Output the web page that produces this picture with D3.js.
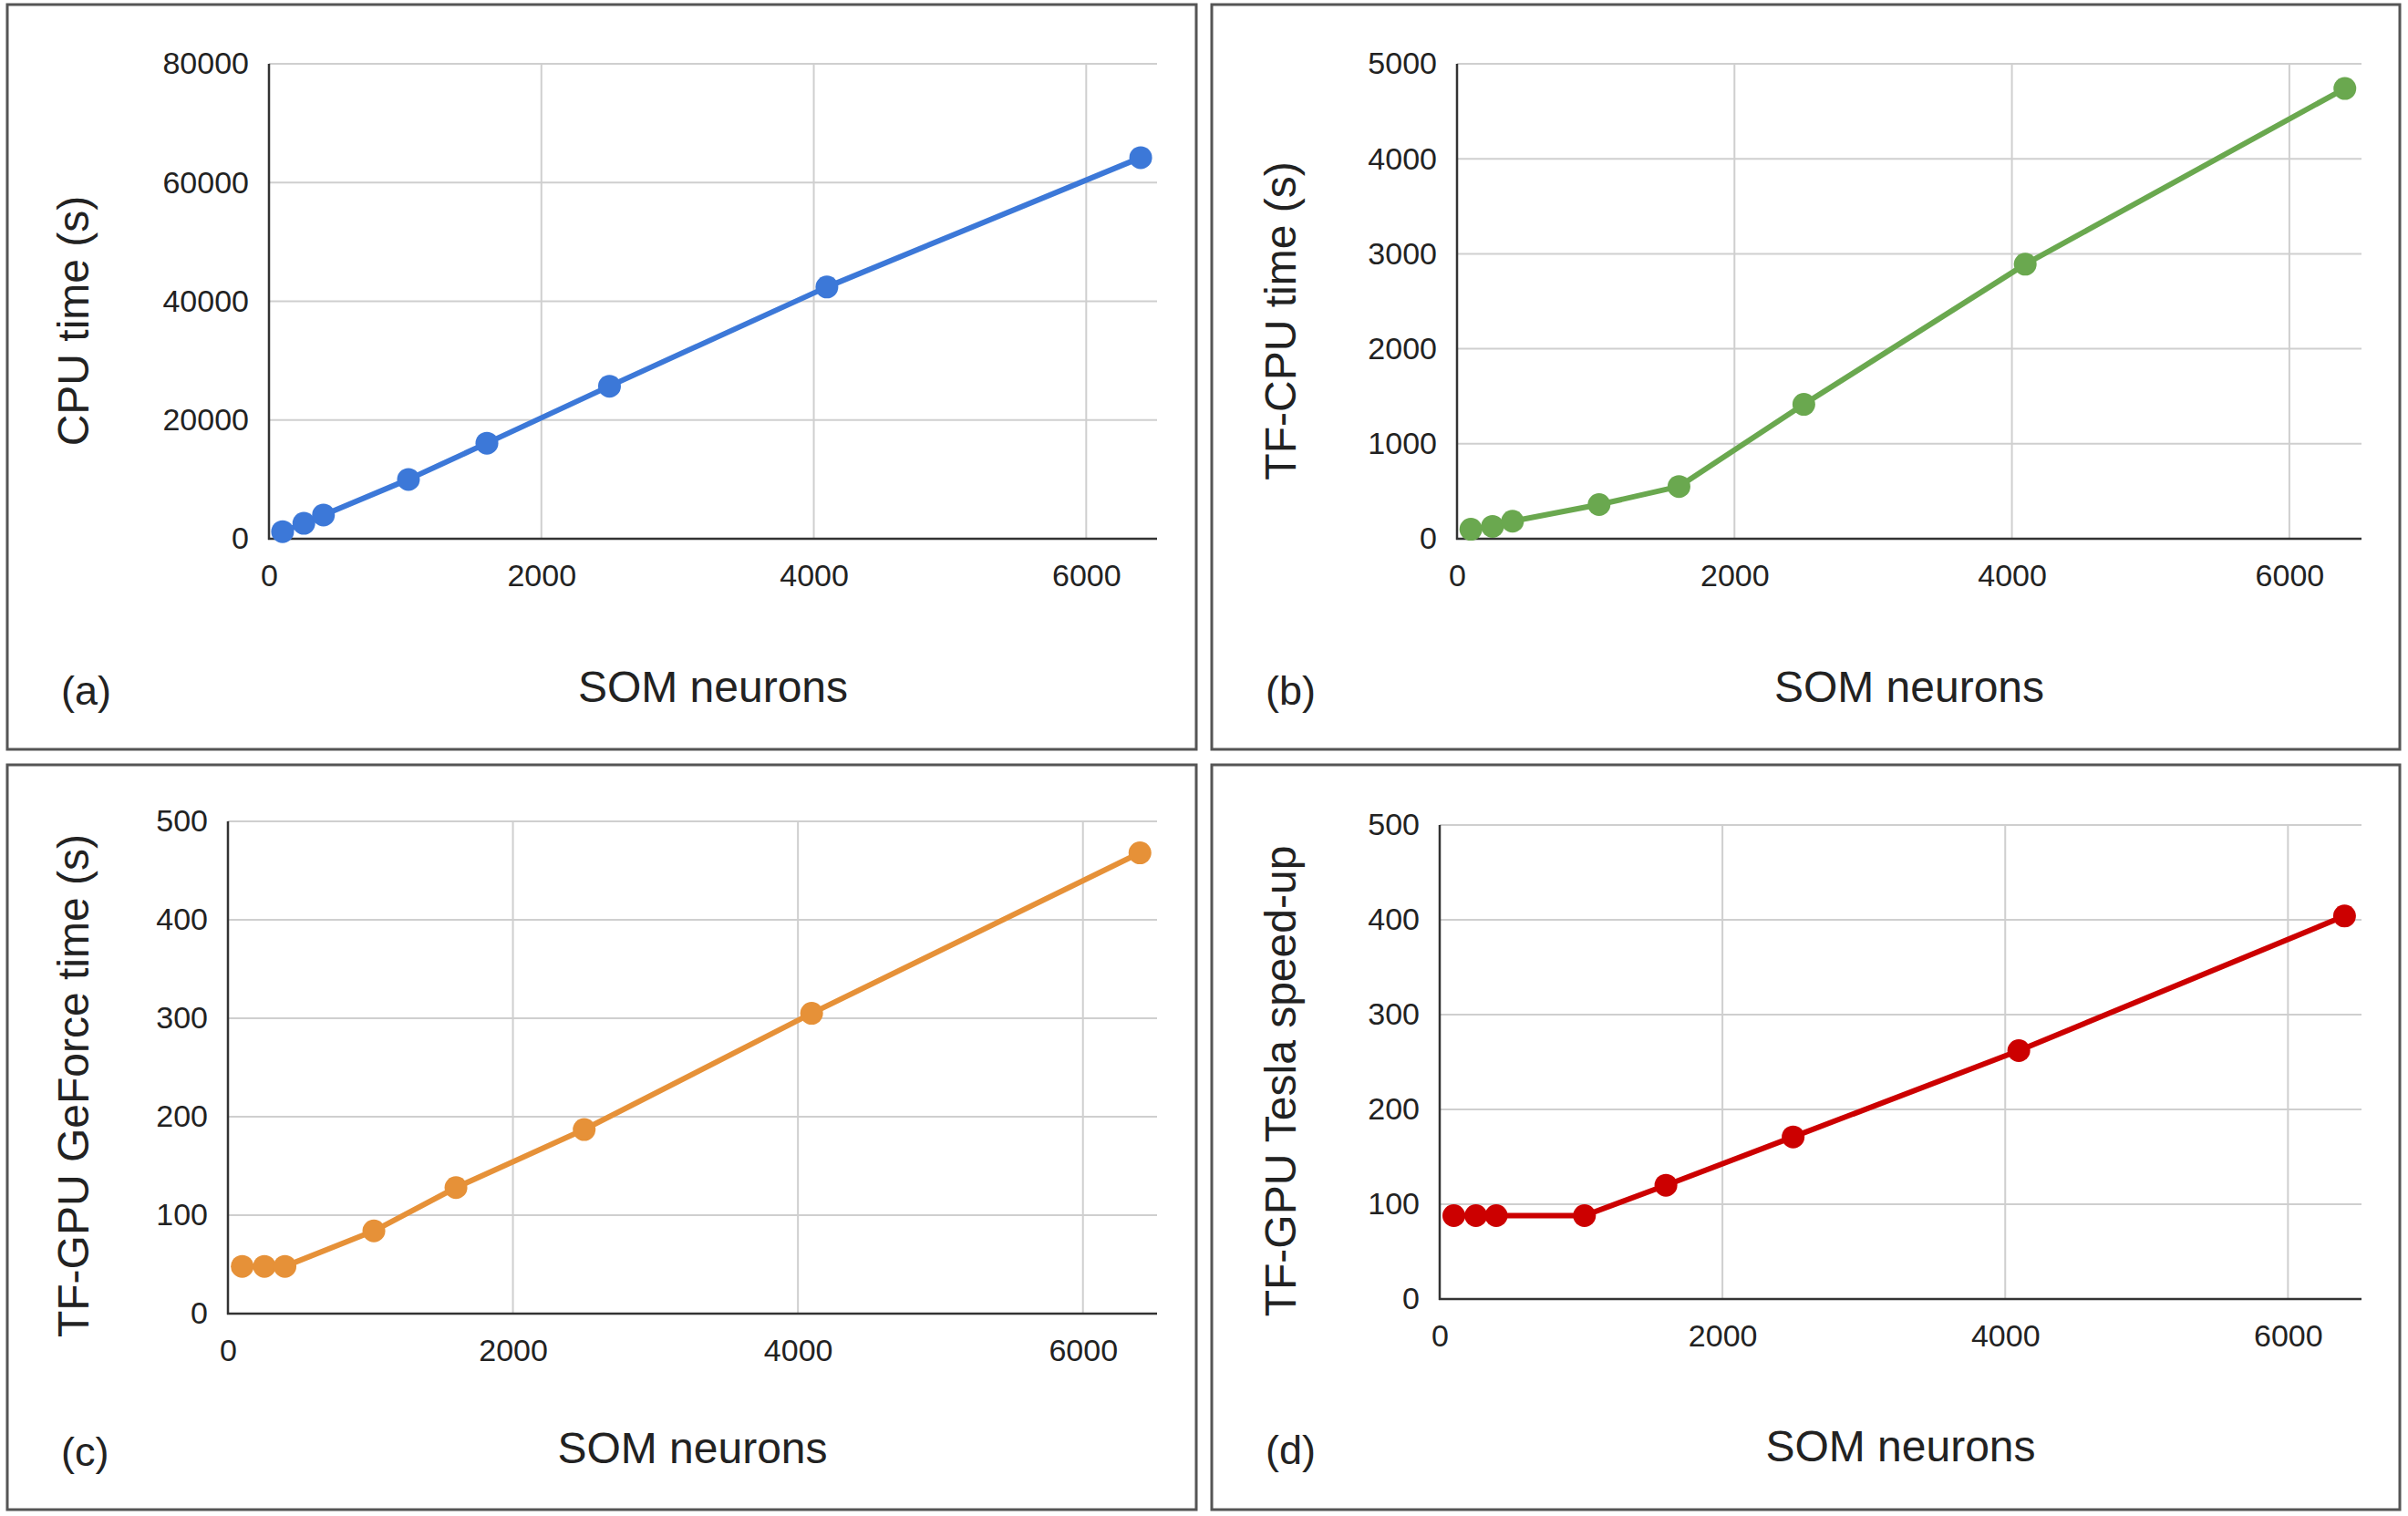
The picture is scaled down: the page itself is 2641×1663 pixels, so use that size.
<!DOCTYPE html>
<html>
<head>
<meta charset="utf-8">
<script src="https://cdn.jsdelivr.net/npm/d3@7"></script>
<style>
  body { margin: 0; background: #fff; }
  text { font-family: "Liberation Sans", Arial, sans-serif; fill: #222; }
</style>
</head>
<body>
<svg></svg>
<script>
const size = {w: 2641, h: 1663};
const svg = d3.select('svg').attr('width', size.w).attr('height', size.h);

// ---- data ----
const neurons = [100, 256, 400, 1024, 1600, 2500, 4096, 6400];
const cpuTime = [1200, 2600, 4000, 10000, 16100, 25700, 42400, 64200];
const tfCpuTime = [100, 130, 185, 360, 550, 1415, 2890, 4740];
const geforceTime = [48, 48, 48, 84, 128, 187, 305, 468];
const teslaSpeedup = [88, 88, 88, 88, 120, 171, 262, 404];

const xTicks = [0, 2000, 4000, 6000];
const yTicksA = [0, 20000, 40000, 60000, 80000];
const yTicksB = [0, 1000, 2000, 3000, 4000, 5000];
const yTicksC = [0, 100, 200, 300, 400, 500];
const yTicksD = [0, 100, 200, 300, 400, 500];

const xMax = 6520;

// panel layout: box, plot rect, y title center
const panels = [
  {tag: '(a)', values: cpuTime, ticks: yTicksA, color: '#3c78d8', title: 'CPU time (s)',
   box: [8, 5, 1304, 817], plot: {l: 295, r: 1269, t: 70, b: 591}, yt: [80, 352], xtY: 770},
  {tag: '(b)', values: tfCpuTime, ticks: yTicksB, color: '#6aa84f', title: 'TF-CPU time (s)',
   box: [1329, 5, 1303, 817], plot: {l: 1598, r: 2590, t: 70, b: 591}, yt: [1404, 352], xtY: 770},
  {tag: '(c)', values: geforceTime, ticks: yTicksC, color: '#e69138', title: 'TF-GPU GeForce time (s)',
   box: [8, 839, 1304, 817], plot: {l: 250, r: 1269, t: 901, b: 1441}, yt: [80, 1191], xtY: 1605},
  {tag: '(d)', values: teslaSpeedup, ticks: yTicksD, color: '#cc0000', title: 'TF-GPU Tesla speed-up',
   box: [1329, 839, 1303, 817], plot: {l: 1579, r: 2590, t: 905, b: 1425}, yt: [1404, 1186], xtY: 1603}
];

panels.forEach(drawPanel);

function drawPanel(p) {
  const g = svg.append('g');

  // frame
  g.append('rect')
    .attr('x', p.box[0]).attr('y', p.box[1])
    .attr('width', p.box[2]).attr('height', p.box[3])
    .attr('fill', 'none').attr('stroke', '#555').attr('stroke-width', 3);

  const x = d3.scaleLinear().domain([0, xMax]).range([p.plot.l, p.plot.r]);
  const y = d3.scaleLinear().domain([0, d3.max(p.ticks)]).range([p.plot.b, p.plot.t]);

  // grid
  g.append('g').selectAll('line.h')
    .data(p.ticks.filter(d => d > 0))
    .join('line')
    .attr('x1', p.plot.l).attr('x2', p.plot.r)
    .attr('y1', d => y(d)).attr('y2', d => y(d))
    .attr('stroke', '#cfcfcf').attr('stroke-width', 2);
  g.append('g').selectAll('line.v')
    .data(xTicks.filter(d => d > 0))
    .join('line')
    .attr('x1', d => x(d)).attr('x2', d => x(d))
    .attr('y1', p.plot.t).attr('y2', p.plot.b)
    .attr('stroke', '#cfcfcf').attr('stroke-width', 2);

  // axes
  const yAxis = g.append('g')
    .attr('transform', `translate(${p.plot.l},0)`)
    .call(d3.axisLeft(y).tickValues(p.ticks).tickSize(0).tickPadding(22).tickFormat(d3.format('d')));
  const xAxis = g.append('g')
    .attr('transform', `translate(0,${p.plot.b})`)
    .call(d3.axisBottom(x).tickValues(xTicks).tickSize(0).tickPadding(28).tickFormat(d3.format('d')));
  [yAxis, xAxis].forEach(a => {
    a.select('.domain').remove();
    a.selectAll('text').style('font-size', '34px').style('font-family', '"Liberation Sans", Arial, sans-serif').attr('fill', '#222');
  });

  g.append('line')
    .attr('x1', p.plot.l).attr('x2', p.plot.l)
    .attr('y1', p.plot.t).attr('y2', p.plot.b + 1)
    .attr('stroke', '#333').attr('stroke-width', 2.5);
  g.append('line')
    .attr('x1', p.plot.l - 1).attr('x2', p.plot.r)
    .attr('y1', p.plot.b).attr('y2', p.plot.b)
    .attr('stroke', '#333').attr('stroke-width', 2.5);

  // series
  const pts = neurons.map((n, i) => [n, p.values[i]]);
  const line = d3.line().x(d => x(d[0])).y(d => y(d[1]));
  g.append('path')
    .datum(pts)
    .attr('d', line)
    .attr('fill', 'none')
    .attr('stroke', p.color)
    .attr('stroke-width', 6)
    .attr('stroke-linejoin', 'round');
  g.append('g').selectAll('circle')
    .data(pts)
    .join('circle')
    .attr('cx', d => x(d[0]))
    .attr('cy', d => y(d[1]))
    .attr('r', 12.5)
    .attr('fill', p.color);

  // titles
  g.append('text')
    .attr('transform', `translate(${p.yt[0]},${p.yt[1]}) rotate(-90)`)
    .attr('text-anchor', 'middle')
    .attr('dy', '0.35em')
    .style('font-size', '48px')
    .text(p.title);

  g.append('text')
    .attr('x', (p.plot.l + p.plot.r) / 2)
    .attr('y', p.xtY)
    .attr('text-anchor', 'middle')
    .style('font-size', '48px')
    .text('SOM neurons');

  g.append('text')
    .attr('x', p.box[0] + 59)
    .attr('y', p.xtY + 3)
    .style('font-size', '45px')
    .text(p.tag);
}
</script>
</body>
</html>
